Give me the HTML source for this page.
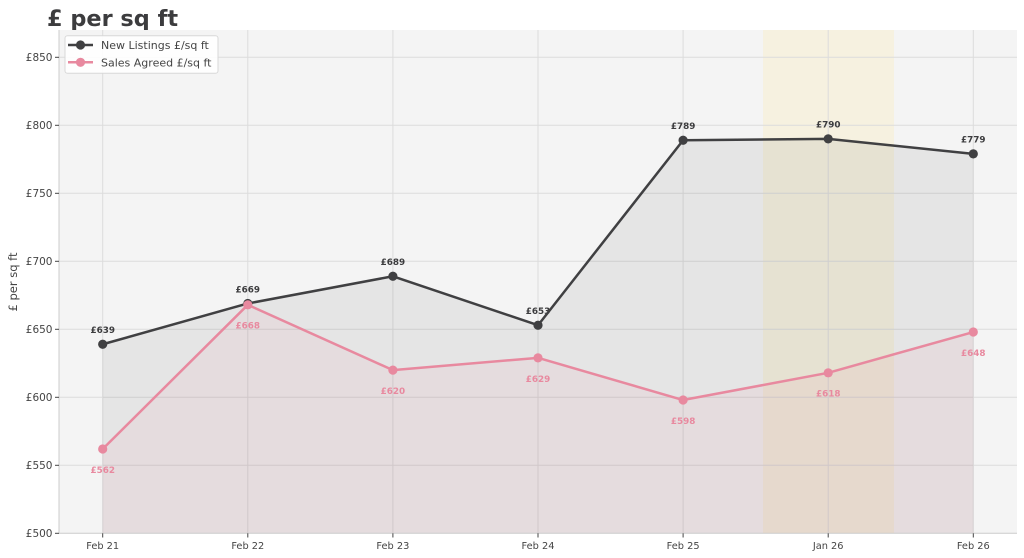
<!DOCTYPE html>
<html><head><meta charset="utf-8"><style>
html,body{margin:0;padding:0;background:#fff;}
svg{display:block;font-family:"DejaVu Sans","Liberation Sans",sans-serif;}
</style></head><body>
<svg width="1024" height="558" viewBox="0 0 1024 558" xmlns="http://www.w3.org/2000/svg">
<rect x="0" y="0" width="1024" height="558" fill="#ffffff"/>
<text x="47" y="26" font-size="22.4" font-weight="bold" fill="#3c3c3e">£ per sq ft</text>
<!-- plot bg -->
<rect x="59" y="30" width="958" height="503.3" fill="#f4f4f4"/>
<!-- highlight band -->
<rect x="763" y="30" width="131" height="503.3" fill="rgb(255,234,154)" fill-opacity="0.22"/>
<!-- grid -->
<g stroke="#dcdcdc" stroke-width="1">
<line x1="59" x2="1017" y1="57.3" y2="57.3"/>
<line x1="59" x2="1017" y1="125.3" y2="125.3"/>
<line x1="59" x2="1017" y1="193.3" y2="193.3"/>
<line x1="59" x2="1017" y1="261.3" y2="261.3"/>
<line x1="59" x2="1017" y1="329.3" y2="329.3"/>
<line x1="59" x2="1017" y1="397.3" y2="397.3"/>
<line x1="59" x2="1017" y1="465.3" y2="465.3"/>
<line y1="30" y2="533" x1="102.7" x2="102.7"/>
<line y1="30" y2="533" x1="247.8" x2="247.8"/>
<line y1="30" y2="533" x1="392.9" x2="392.9"/>
<line y1="30" y2="533" x1="538" x2="538"/>
<line y1="30" y2="533" x1="683.1" x2="683.1"/>
<line y1="30" y2="533" x1="828.2" x2="828.2"/>
<line y1="30" y2="533" x1="973.3" x2="973.3"/>
</g>
<!-- fills -->
<polygon points="102.7,533.3 102.7,344.26 247.8,303.46 392.9,276.26 538,325.22 683.1,140.26 828.2,138.9 973.3,153.86 973.3,533.3" fill="#404040" fill-opacity="0.085"/>
<polygon points="102.7,533.3 102.7,448.98 247.8,304.82 392.9,370.1 538,357.86 683.1,400.02 828.2,372.82 973.3,332.02 973.3,533.3" fill="#e8899f" fill-opacity="0.09"/>
<!-- spines -->
<line x1="59" x2="59" y1="30" y2="533.8" stroke="#cccccc" stroke-width="1"/>
<line x1="58.5" x2="1017" y1="533.3" y2="533.3" stroke="#cccccc" stroke-width="1"/>
<!-- ticks -->
<g stroke="#444" stroke-width="1">
<line x1="55" x2="59" y1="57.3" y2="57.3"/>
<line x1="55" x2="59" y1="125.3" y2="125.3"/>
<line x1="55" x2="59" y1="193.3" y2="193.3"/>
<line x1="55" x2="59" y1="261.3" y2="261.3"/>
<line x1="55" x2="59" y1="329.3" y2="329.3"/>
<line x1="55" x2="59" y1="397.3" y2="397.3"/>
<line x1="55" x2="59" y1="465.3" y2="465.3"/>
<line x1="55" x2="59" y1="533.3" y2="533.3"/>
<line y1="533.3" y2="537.5" x1="102.7" x2="102.7"/>
<line y1="533.3" y2="537.5" x1="247.8" x2="247.8"/>
<line y1="533.3" y2="537.5" x1="392.9" x2="392.9"/>
<line y1="533.3" y2="537.5" x1="538" x2="538"/>
<line y1="533.3" y2="537.5" x1="683.1" x2="683.1"/>
<line y1="533.3" y2="537.5" x1="828.2" x2="828.2"/>
<line y1="533.3" y2="537.5" x1="973.3" x2="973.3"/>
</g>
<g font-size="10.5" fill="#444" text-anchor="end">
<text x="52.5" y="61">£850</text>
<text x="52.5" y="129">£800</text>
<text x="52.5" y="197">£750</text>
<text x="52.5" y="265">£700</text>
<text x="52.5" y="333">£650</text>
<text x="52.5" y="401">£600</text>
<text x="52.5" y="469">£550</text>
<text x="52.5" y="537">£500</text>
</g>
<g font-size="9.8" fill="#444" text-anchor="middle">
<text x="102.7" y="549">Feb 21</text>
<text x="247.8" y="549">Feb 22</text>
<text x="392.9" y="549">Feb 23</text>
<text x="538" y="549">Feb 24</text>
<text x="683.1" y="549">Feb 25</text>
<text x="828.2" y="549">Jan 26</text>
<text x="973.3" y="549">Feb 26</text>
</g>
<text transform="translate(17,282) rotate(-90)" font-size="11.5" fill="#444" text-anchor="middle">£ per sq ft</text>
<!-- data labels -->
<g font-size="8.8" font-weight="bold" fill="#3c3c3e" text-anchor="middle">
<text x="102.7" y="333">£639</text>
<text x="247.8" y="292.5">£669</text>
<text x="392.9" y="265">£689</text>
<text x="538" y="314">£653</text>
<text x="683.1" y="129">£789</text>
<text x="828.2" y="127.5">£790</text>
<text x="973.3" y="142.5">£779</text>
</g>
<g font-size="8.8" font-weight="bold" fill="#e8899f" text-anchor="middle">
<text x="102.7" y="473">£562</text>
<text x="247.8" y="328.5">£668</text>
<text x="392.9" y="394">£620</text>
<text x="538" y="382">£629</text>
<text x="683.1" y="424">£598</text>
<text x="828.2" y="396.5">£618</text>
<text x="973.3" y="356">£648</text>
</g>
<!-- lines -->
<polyline points="102.7,344.26 247.8,303.46 392.9,276.26 538,325.22 683.1,140.26 828.2,138.9 973.3,153.86" fill="none" stroke="#404042" stroke-width="2.5" stroke-linejoin="round"/>
<g fill="#404042">
<circle cx="102.7" cy="344.26" r="4.6"/><circle cx="247.8" cy="303.46" r="4.6"/><circle cx="392.9" cy="276.26" r="4.6"/><circle cx="538" cy="325.22" r="4.6"/><circle cx="683.1" cy="140.26" r="4.6"/><circle cx="828.2" cy="138.9" r="4.6"/><circle cx="973.3" cy="153.86" r="4.6"/>
</g>
<polyline points="102.7,448.98 247.8,304.82 392.9,370.1 538,357.86 683.1,400.02 828.2,372.82 973.3,332.02" fill="none" stroke="#e8899f" stroke-width="2.5" stroke-linejoin="round"/>
<g fill="#e8899f">
<circle cx="102.7" cy="448.98" r="4.6"/><circle cx="247.8" cy="304.82" r="4.6"/><circle cx="392.9" cy="370.1" r="4.6"/><circle cx="538" cy="357.86" r="4.6"/><circle cx="683.1" cy="400.02" r="4.6"/><circle cx="828.2" cy="372.82" r="4.6"/><circle cx="973.3" cy="332.02" r="4.6"/>
</g>
<!-- legend -->
<rect x="65" y="35.7" width="153" height="37.6" rx="2.5" fill="#ffffff" fill-opacity="0.9" stroke="#d8d8d8" stroke-width="1"/>
<line x1="68" x2="93" y1="45" y2="45" stroke="#404042" stroke-width="2.5"/>
<circle cx="80.5" cy="45" r="4.6" fill="#404042"/>
<line x1="68" x2="93" y1="62.3" y2="62.3" stroke="#e8899f" stroke-width="2.5"/>
<circle cx="80.5" cy="62.3" r="4.6" fill="#e8899f"/>
<g font-size="11" fill="#444">
<text x="101" y="49">New Listings £/sq ft</text>
<text x="101" y="66.3">Sales Agreed £/sq ft</text>
</g>
</svg>
</body></html>
